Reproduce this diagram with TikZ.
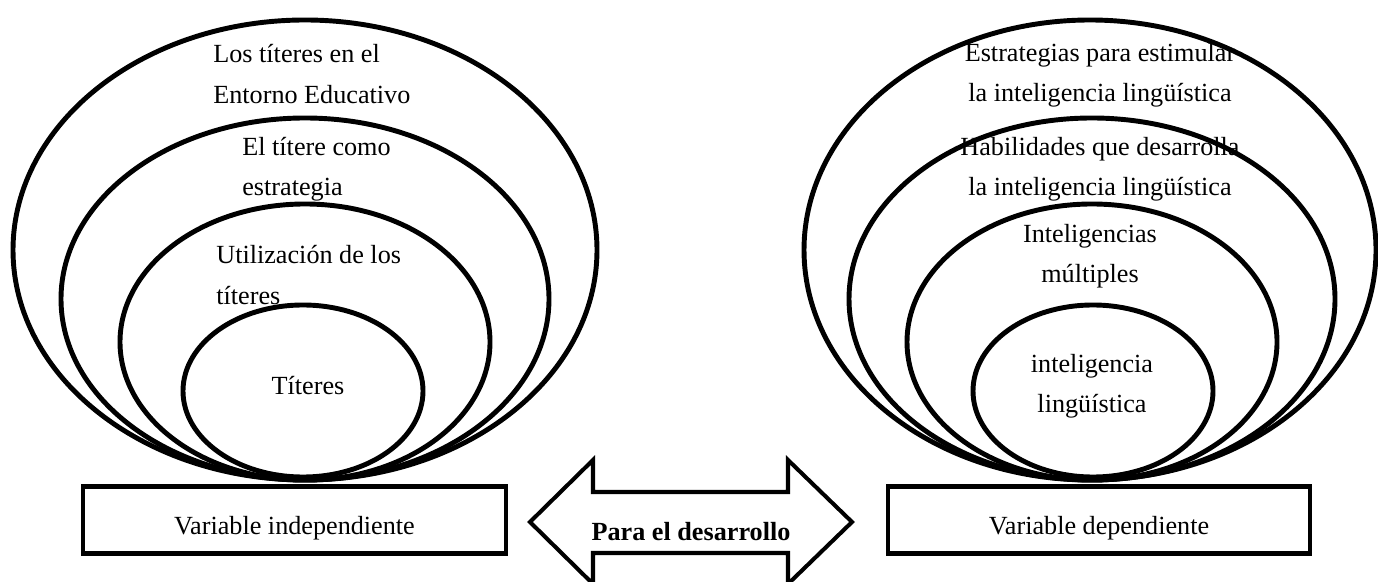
\documentclass[tikz,border=0pt]{standalone}
\usepackage{fontspec}
\setmainfont{Liberation Serif}
\usetikzlibrary{positioning}

\begin{document}
\begin{tikzpicture}[x=0.02cm, y=0.02cm,
	ring/.style={line width=2.8pt},
	label/.style={inner sep=0pt, font=\fontsize{14.9}{23}\selectfont},
	varbox/.style={draw, line width=2.3pt, minimum width=8.45cm, minimum height=1.34cm, inner sep=0pt,
		text height=20pt, text depth=3.2pt, font=\fontsize{14.9}{23}\selectfont}]
			%%%%% START %%%%%
			\clip (0, 0) rectangle (1378, 581);
			
			% independiente
			\draw[ring] (305, 331) ellipse [x radius=292, y radius=230];
			\draw[ring] (305, 282) ellipse [x radius=244, y radius=181];
			\draw[ring] (305, 239) ellipse [x radius=185, y radius=138];
			\draw[ring] (303, 190) ellipse [x radius=120, y radius=86];
			
			\node[label, anchor=west, align=left] (entorno) at (213, 507) {Los títeres en el\\Entorno Educativo};
			\node[label, anchor=west, align=left] (estrategia) at (242, 412) {El títere como\\estrategia};
			\node[label, anchor=west, align=left] (utilizacion) at (216, 306) {Utilización de los\\títeres};
			\node[label] (titeres) at (308, 195) {Títeres};
			
			% dependiente
			\draw[ring] (1090, 331) ellipse [x radius=286, y radius=230];
			\draw[ring] (1092, 282) ellipse [x radius=243, y radius=181];
			\draw[ring] (1092, 239) ellipse [x radius=185, y radius=138];
			\draw[ring] (1093, 190) ellipse [x radius=120, y radius=86];
			
			\node[label, align=center] (estimular) at (1100, 506) {Estrategias para estimular\\la inteligencia lingüística};
			\node[label, align=center] (habilidades) at (1100, 412) {Habilidades que desarrolla\\la inteligencia lingüística};
			\node[label, align=center] (multiples) at (1090, 325) {Inteligencias\\múltiples};
			\node[label, align=center] (linguistica) at (1092, 195) {inteligencia\\lingüística};
			
			\node[varbox] (indep) at (294.5, 61) {Variable independiente};
			\node[varbox] (dep) at (1099, 61) {Variable dependiente};
			
			% flecha doble
			\draw[line width=2.3pt, line join=miter] (530, 59) -- (593, 121) -- (593, 89) -- (788, 89) -- (788, 121)
				-- (852, 59) -- (788, -3) -- (788, 28) -- (593, 28) -- (593, -3) -- cycle;
			\node[label, font=\fontsize{14.9}{23}\selectfont\bfseries] (desarrollo) at (691, 49) {Para el desarrollo};
			
			%%%%% END %%%%%
\end{tikzpicture}
\end{document}
